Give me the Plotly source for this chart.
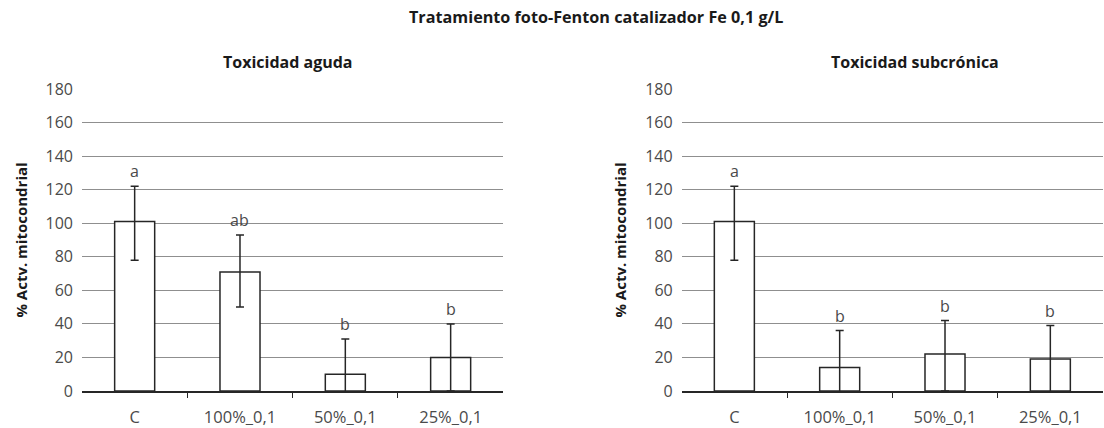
import plotly.graph_objects as go
from plotly.subplots import make_subplots

# Data
categories = ["C", "100%_0,1", "50%_0,1", "25%_0,1"]

aguda_mean = [101, 71, 10, 20]
aguda_err_plus = [21, 22, 21, 20]
aguda_err_minus = [23, 21, 21, 20]
aguda_letters = ["a", "ab", "b", "b"]

subcronica_mean = [101, 14, 22, 19]
subcronica_err_plus = [21, 22, 20, 20]
subcronica_err_minus = [23, 22, 22, 20]
subcronica_letters = ["a", "b", "b", "b"]

y_ticks = [0, 20, 40, 60, 80, 100, 120, 140, 160, 180]

main_title = "Tratamiento foto-Fenton catalizador Fe 0,1 g/L"
panel_titles = ["Toxicidad aguda", "Toxicidad subcrónica"]
y_title = "% Actv. mitocondrial"

FONT = "Open Sans"
DARK = "#262626"
TICK_COLOR = "#4a4a4a"
TITLE_COLOR = "#1a1a1a"

positions = list(range(len(categories)))

fig = make_subplots(rows=1, cols=2, horizontal_spacing=0.1747)

panels = [
    (aguda_mean, aguda_err_plus, aguda_err_minus, aguda_letters),
    (subcronica_mean, subcronica_err_plus, subcronica_err_minus, subcronica_letters),
]

for col, (mean, ep, em, letters) in enumerate(panels, start=1):
    fig.add_trace(
        go.Bar(
            x=positions,
            y=mean,
            width=0.38,
            marker=dict(color="white", line=dict(color=DARK, width=1.5)),
            error_y=dict(
                type="data",
                symmetric=False,
                array=ep,
                arrayminus=em,
                color=DARK,
                thickness=1.5,
                width=4,
            ),
            showlegend=False,
            hoverinfo="skip",
        ),
        row=1,
        col=col,
    )
    xref = "x" if col == 1 else "x2"
    yref = "y" if col == 1 else "y2"
    for xi, m, e, lab in zip(positions, mean, ep, letters):
        fig.add_annotation(
            x=xi,
            y=m + e,
            xref=xref,
            yref=yref,
            text=lab,
            showarrow=False,
            xanchor="center",
            yanchor="bottom",
            yshift=2,
            font=dict(family=FONT, size=16, color=TICK_COLOR),
        )

for col in (1, 2):
    fig.update_xaxes(
        row=1,
        col=col,
        range=[-0.5, len(categories) - 0.5],
        tickvals=positions,
        ticktext=categories,
        ticks="",
        showgrid=False,
        zeroline=False,
        showline=True,
        linecolor=DARK,
        linewidth=1.5,
        tickfont=dict(family=FONT, size=16.5, color=TICK_COLOR),
        ticklabelstandoff=10,
        minor=dict(
            tickvals=[p + 0.5 for p in positions[:-1]],
            ticks="outside",
            ticklen=5,
            tickcolor=DARK,
            tickwidth=1,
            showgrid=False,
        ),
        fixedrange=True,
    )
    fig.update_yaxes(
        row=1,
        col=col,
        range=[0, 180],
        tickvals=y_ticks,
        showgrid=True,
        gridcolor="#8f8f8f",
        gridwidth=1,
        zeroline=False,
        showline=False,
        ticks="",
        ticklabelstandoff=8,
        tickfont=dict(family=FONT, size=16, color=TICK_COLOR),
        title=dict(
            text=y_title,
            font=dict(family=FONT, size=15, color=TITLE_COLOR, weight=700),
            standoff=14,
        ),
        fixedrange=True,
    )

# Main and panel titles
fig.add_annotation(
    x=0.5034, y=1.238, xref="paper", yref="paper",
    xanchor="center", yanchor="middle",
    text=main_title, showarrow=False,
    font=dict(family=FONT, size=16.2, color=TITLE_COLOR, weight=700),
)
fig.add_annotation(
    x=0.2018, y=1.09, xref="paper", yref="paper",
    xanchor="center", yanchor="middle",
    text=panel_titles[0], showarrow=False,
    font=dict(family=FONT, size=16, color=TITLE_COLOR, weight=700),
)
fig.add_annotation(
    x=0.8159, y=1.09, xref="paper", yref="paper",
    xanchor="center", yanchor="middle",
    text=panel_titles[1], showarrow=False,
    font=dict(family=FONT, size=16, color=TITLE_COLOR, weight=700),
)

fig.update_layout(
    width=1104,
    height=428,
    margin=dict(l=82, r=1, t=89, b=37),
    paper_bgcolor="white",
    plot_bgcolor="white",
    bargap=0.62,
)

fig.write_html("out.html")
